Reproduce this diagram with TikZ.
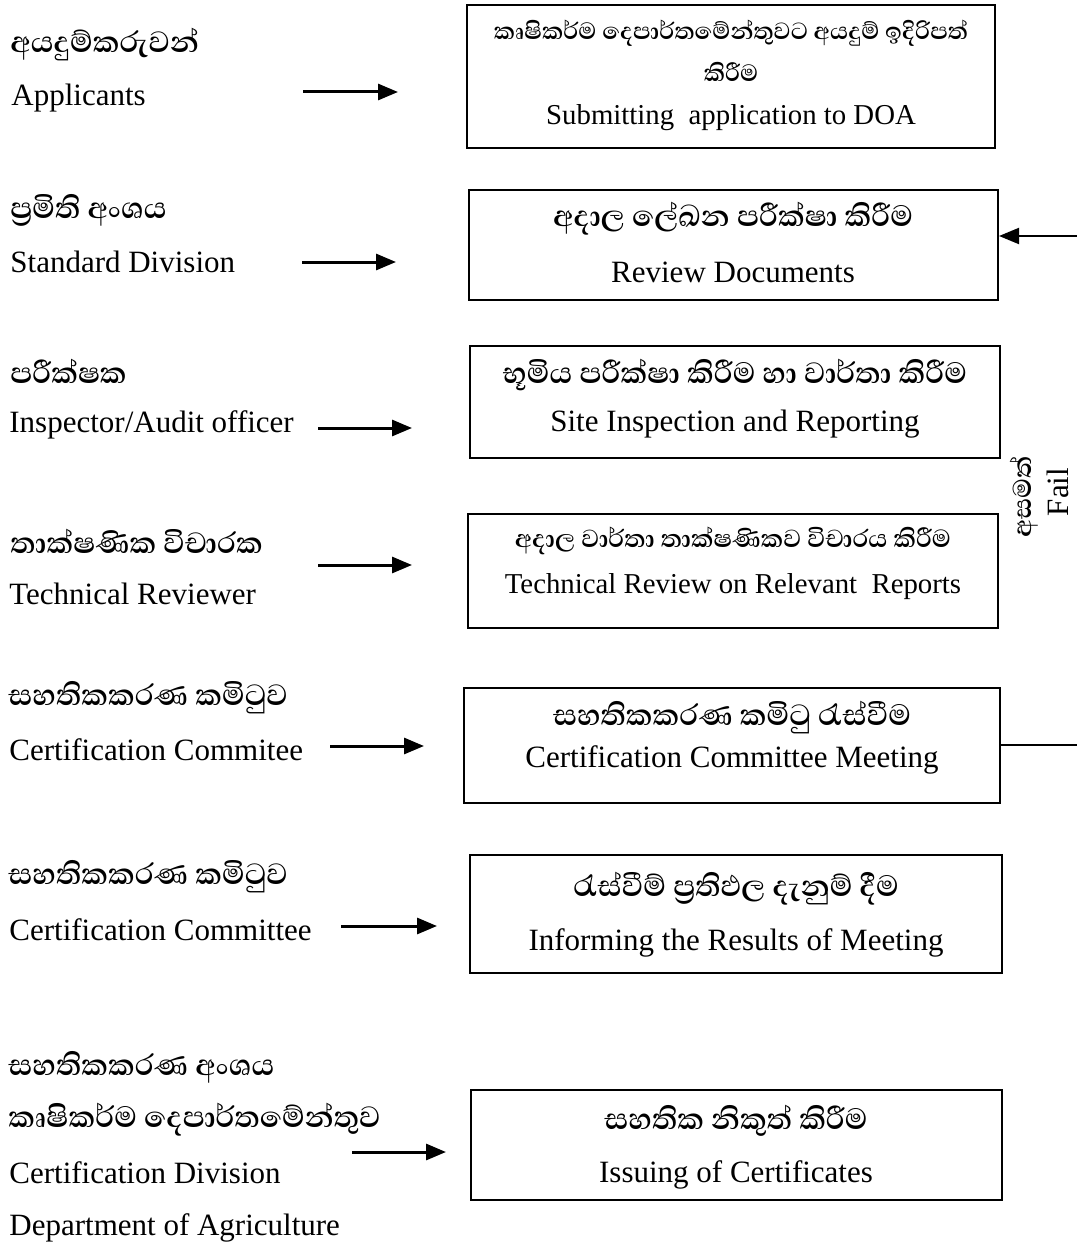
\documentclass[tikz,border=0pt]{standalone}
\usepackage{fontspec}
\setmainfont{Liberation Serif}
\newfontfamily\sinfont[Script=Sinhala]{Abhaya Libre}
\usetikzlibrary{arrows.meta}
\begin{document}
\begin{tikzpicture}[x=0.5pt,y=-0.5pt,
  box/.style={draw,line width=1pt,inner sep=0pt},
  en/.style={font=\fontsize{15.5}{18}\selectfont,inner sep=0pt},
  ens/.style={font=\fontsize{14.4}{17}\selectfont,inner sep=0pt},
  si/.style={font=\sinfont\bfseries\fontsize{18.8}{22}\selectfont,inner sep=0pt},
  sis/.style={font=\sinfont\bfseries\fontsize{15}{18}\selectfont,inner sep=0pt},
  sim/.style={font=\sinfont\bfseries\fontsize{15.8}{19}\selectfont,inner sep=0pt},
  arr/.style={line width=1.5pt,-{Triangle[length=10pt,width=8pt]}},
  fb/.style={line width=1pt}]
\useasboundingbox (0,0) rectangle (1076,1246);
\fill[white] (0,0) rectangle (1076,1246);

% ---- boxes ----
\node[box,minimum width=264pt,minimum height=71.5pt] (b1) at (731,76.5) {};
\node[box,minimum width=264.5pt,minimum height=55pt] (b2) at (733.5,245) {};
\node[box,minimum width=265pt,minimum height=56pt] (b3) at (735,402) {};
\node[box,minimum width=265pt,minimum height=57pt] (b4) at (733,571) {};
\node[box,minimum width=268pt,minimum height=57.5pt] (b5) at (732,745.5) {};
\node[box,minimum width=266pt,minimum height=59pt] (b6) at (736,914) {};
\node[box,minimum width=265.5pt,minimum height=55pt] (b7) at (736.5,1145) {};

% ---- box texts ----
\node[sis] (b1s1) at (731,33) {කෘෂිකර්ම දෙපාර්තමේන්තුවට අයදුම් ඉදිරිපත්};
\node[sis] (b1s2) at (731,72) {කිරීම};
\node[ens] (b1e) at (731,118) {Submitting\ \ application to DOA};

\node[si] (b2s) at (733,219) {අදාල ලේඛන පරීක්ෂා කිරීම};
\node[en] (b2e) at (733,272) {Review Documents};

\node[si] (b3s) at (735,375) {භූමිය පරීක්ෂා කිරීම හා වාර්තා කිරීම};
\node[en] (b3e) at (735,424) {Site Inspection and Reporting};

\node[sim] (b4s) at (733,541) {අදාල වාර්තා තාක්ෂණිකව විචාරය කිරීම};
\node[ens] (b4e) at (733,587) {Technical Review on Relevant\ \ Reports};

\node[si] (b5s) at (732,718) {සහතිකකරණ කමිටු රැස්වීම};
\node[en] (b5e) at (732,760) {Certification Committee Meeting};

\node[si] (b6s) at (736,889) {රැස්වීම් ප්^^^^200dරතිඵල දැනුම් දීම};
\node[en] (b6e) at (736,943) {Informing the Results of Meeting};

\node[si] (b7s) at (736,1121) {සහතික නිකුත් කිරීම};
\node[en] (b7e) at (736,1175) {Issuing of Certificates};

% ---- left labels ----
\node[si,anchor=west] (l1s) at (10,45) {අයදුම්කරුවන්};
\node[en,anchor=west] (l1e) at (11,98) {Applicants};
\node[si,anchor=west] (l2s) at (10,210) {ප්^^^^200dරමිති අංශය};
\node[en,anchor=west] (l2e) at (10,262) {Standard Division};
\node[si,anchor=west] (l3s) at (10,371) {පරීක්ෂක};
\node[en,anchor=west] (l3e) at (9,425) {Inspector/Audit officer};
\node[si,anchor=west] (l4s) at (10,541) {තාක්ෂණික විචාරක};
\node[en,anchor=west] (l4e) at (9,594) {Technical Reviewer};
\node[si,anchor=west] (l5s) at (8,698) {සහතිකකරණ කමිටුව};
\node[en,anchor=west] (l5e) at (9,750) {Certification Commitee};
\node[si,anchor=west] (l6s) at (8,877) {සහතිකකරණ කමිටුව};
\node[en,anchor=west] (l6e) at (9,930) {Certification Committee};
\node[si,anchor=west] (l7s) at (8,1067) {සහතිකකරණ අංශය};
\node[si,anchor=west] (l7t) at (8,1120) {කෘෂිකර්ම දෙපාර්තමේන්තුව};
\node[en,anchor=west] (l7e) at (9,1173) {Certification Division};
\node[en,anchor=west] (l7f) at (9,1228) {Department of Agriculture};

% ---- arrows ----
\coordinate (a1s) at (303,92);  \coordinate (a1e) at (398,92);
\coordinate (a2s) at (302,262); \coordinate (a2e) at (396,262);
\coordinate (a3s) at (318,428); \coordinate (a3e) at (412,428);
\coordinate (a4s) at (318,565); \coordinate (a4e) at (412,565);
\coordinate (a5s) at (330,746); \coordinate (a5e) at (424,746);
\coordinate (a6s) at (341,926); \coordinate (a6e) at (437,926);
\coordinate (a7s) at (352,1152); \coordinate (a7e) at (446,1152);
\foreach \i in {1,...,7} {\draw[arr] (a\i s) -- (a\i e);}

% ---- fail feedback ----
\coordinate (fbR) at (1082,745);
\coordinate (fbT) at (1082,236);
\draw[fb,-{Triangle[length=10pt,width=8pt]}] (b5.east |- fbR) -- (fbR) -- (fbT) -- (b2.east |- fbT);
\node[font=\sinfont\bfseries\fontsize{16.5}{19}\selectfont,inner sep=0pt,rotate=90] (fs) at (1024,497) {අසමත්};
\node[en,rotate=90] (fe) at (1058,492) {Fail};
\end{tikzpicture}
\end{document}
